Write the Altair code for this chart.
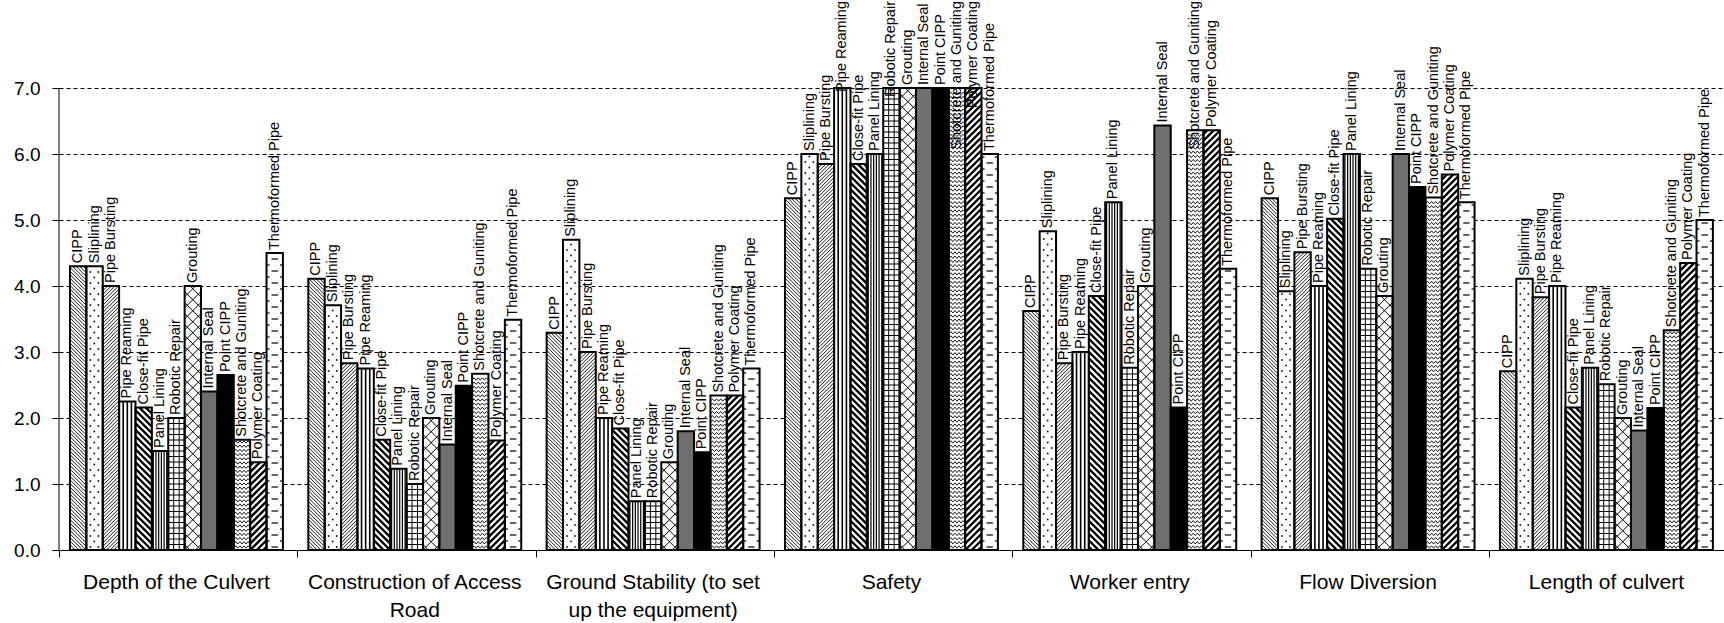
import altair as alt
import numpy as np
import pandas as pd

# ---------------------------------------------------------------------------
# Scores (0-7) of each trenchless method against each site criterion
# ---------------------------------------------------------------------------
criteria = [
    "Depth of the Culvert",
    "Construction of Access\nRoad",
    "Ground Stability (to set\nup the equipment)",
    "Safety",
    "Worker entry",
    "Flow Diversion",
    "Length of culvert",
]
methods = [
    "CIPP", "Sliplining", "Pipe Bursting", "Pipe Reaming", "Close-fit Pipe",
    "Panel Lining", "Robotic Repair", "Grouting", "Internal Seal", "Point CIPP",
    "Shotcrete and Guniting", "Polymer Coating", "Thermoformed Pipe",
]

depth_of_culvert = [4.30, 4.30, 4.00, 2.25, 2.16, 1.50, 2.00, 4.00, 2.40, 2.65, 1.67, 1.33, 4.50]
access_road = [4.11, 3.71, 2.83, 2.75, 1.67, 1.23, 1.00, 2.00, 1.60, 2.49, 2.67, 1.66, 3.49]
ground_stability = [3.29, 4.70, 3.00, 2.00, 1.84, 0.74, 0.74, 1.33, 1.80, 1.48, 2.34, 2.34, 2.75]
safety = [5.33, 6.00, 5.85, 7.00, 5.85, 6.00, 7.00, 7.00, 7.00, 7.00, 7.00, 7.00, 6.00]
worker_entry = [3.62, 4.83, 2.83, 3.00, 3.85, 5.27, 2.76, 4.00, 6.43, 2.16, 6.36, 6.36, 4.26]
flow_diversion = [5.33, 3.92, 4.51, 4.00, 5.02, 6.00, 4.26, 3.85, 6.00, 5.50, 5.34, 5.69, 5.27]
culvert_length = [2.71, 4.11, 3.83, 4.00, 2.16, 2.76, 2.51, 2.00, 1.81, 2.15, 3.33, 4.35, 5.00]

series = [depth_of_culvert, access_road, ground_stability, safety,
          worker_entry, flow_diversion, culvert_length]

# ---------------------------------------------------------------------------
# Layout: the x scale counts bar slots, the y scale counts score units
# ---------------------------------------------------------------------------
PLOT_W, PLOT_H = 1665, 550
BAR_PX = 16.38          # pixel width of one bar slot
Y_PX = 66.0             # pixels per score unit
GROUP_SLOTS = 14.55     # slots per criterion, gap included
LEAD = 0.67             # slots between a category tick and its first bar
X_MAX = PLOT_W / BAR_PX
Y_MAX = PLOT_H / Y_PX
FONT = "Liberation Sans"
LABEL_SIZE = 14.5
LABEL_GAP = 3

base_fill = {m: "white" for m in methods}
base_fill["Internal Seal"] = "#6f6f6f"
base_fill["Point CIPP"] = "black"

# Advance widths (per 1000 em) of the Arial-metric face, used to keep the
# rotated bar labels inside the top edge of the chart.
ADVANCE = {
    " ": 278, "-": 333, "B": 667, "C": 722, "G": 778, "I": 278, "L": 556,
    "P": 667, "R": 722, "S": 667, "T": 611, "a": 556, "b": 556, "c": 500,
    "d": 556, "e": 556, "f": 278, "g": 556, "h": 556, "i": 222, "l": 222,
    "m": 833, "n": 556, "o": 556, "p": 556, "r": 333, "s": 500, "t": 278,
    "u": 556, "y": 500,
}


def text_px(s, size):
    return sum(ADVANCE.get(ch, 556) for ch in s) * size / 1000.0


rows = []
for g, (crit, vals) in enumerate(zip(criteria, series)):
    for b, (m, v) in enumerate(zip(methods, vals)):
        left = g * GROUP_SLOTS + LEAD + b
        end_px = v * Y_PX + LABEL_GAP + text_px(m, LABEL_SIZE)
        rows.append(dict(criterion=crit, method=m, value=v, base=0.0,
                         x0=left, x1=left + 1, xc=left + 0.5,
                         clamped=bool(end_px > PLOT_H - 1),
                         ytop=(PLOT_H - 1) / Y_PX))
bars = pd.DataFrame(rows)


# ---------------------------------------------------------------------------
# Monochrome fill patterns, built in bar-local pixels then mapped to data units
# ---------------------------------------------------------------------------
def diagonal(W, H, step, rising, sw):
    out = []
    if rising:
        c = -W + step / 2
        while c < H:
            xa, xb = max(0.0, -c), min(W, H - c)
            if xb - xa > 0.3:
                out.append((xa, xa + c, xb, xb + c, sw))
            c += step
    else:
        c = step / 2
        while c < W + H:
            xa, xb = max(0.0, c - H), min(W, c)
            if xb - xa > 0.3:
                out.append((xa, c - xa, xb, c - xb, sw))
            c += step
    return out


def verticals(H, xs, sw):
    return [(x, 0.0, x, H, sw) for x in xs]


def horizontals(W, H, step, sw):
    return [(0.0, y, W, y, sw) for y in np.arange(step, H - 0.8, step)]


def dashes(W, H):
    out = []
    for k, y in enumerate(np.arange(3.0, H - 1.0, 6.0)):
        if k % 2 == 0:
            out.append((5.0, y, 11.4, y, 1.2))
        else:
            out.append((0.0, y, 3.0, y, 1.2))
            out.append((13.4, y, W, y, 1.2))
    return out


segments, dots, zigzags = [], [], []
zig_id = 0
W = BAR_PX
for r in bars.itertuples():
    H = r.value * Y_PX
    m = r.method
    segs = []
    if m == "CIPP":
        segs = diagonal(W, H, 3.6, False, 0.9)
    elif m == "Pipe Bursting":
        segs = diagonal(W, H, 3.6, True, 0.9)
    elif m == "Close-fit Pipe":
        segs = diagonal(W, H, 6.5, False, 2.4)
    elif m == "Polymer Coating":
        segs = diagonal(W, H, 6.5, True, 2.4)
    elif m == "Grouting":
        segs = diagonal(W, H, 11.0, True, 1.0) + diagonal(W, H, 11.0, False, 1.0)
    elif m == "Pipe Reaming":
        segs = verticals(H, [4.1, 8.2, 12.3], 1.6)
    elif m == "Panel Lining":
        segs = verticals(H, np.arange(1.4, W - 0.5, 2.7), 1.2)
    elif m == "Robotic Repair":
        segs = verticals(H, [W / 3, 2 * W / 3], 1.0) + horizontals(W, H, 5.5, 1.0)
    elif m == "Thermoformed Pipe":
        segs = dashes(W, H)
    elif m == "Sliplining":
        for k, y in enumerate(np.arange(3.0, H - 1.5, 5.5)):
            for x in ([4.0, 12.0] if k % 2 == 0 else [8.0]):
                dots.append(dict(x=r.x0 + x / BAR_PX, y=y / Y_PX))
    elif m == "Shotcrete and Guniting":
        for y0 in np.arange(3.0, H - 2.0, 4.2):
            for i, x in enumerate(np.linspace(0, W, 9)):
                yy = y0 + (1.2 if i % 2 else -1.2)
                zigzags.append(dict(x=r.x0 + x / BAR_PX, y=yy / Y_PX, rid=zig_id, k=i))
            zig_id += 1
    for (xa, ya, xb, yb, sw) in segs:
        segments.append(dict(x=r.x0 + xa / BAR_PX, y=ya / Y_PX,
                             x2=r.x0 + xb / BAR_PX, y2=yb / Y_PX, sw=sw))

segments = pd.DataFrame(segments)
dots = pd.DataFrame(dots)
zigzags = pd.DataFrame(zigzags)

# ---------------------------------------------------------------------------
# Shared scales and axes (identical in every layer so they merge cleanly)
# ---------------------------------------------------------------------------
XS = alt.Scale(domain=[0, X_MAX], nice=False, zero=False)
YS = alt.Scale(domain=[0, Y_MAX], nice=False, zero=True)

boundaries = [g * GROUP_SLOTS for g in range(len(criteria))]

X_AXIS = alt.Axis(
    values=boundaries, labels=False, ticks=True, tickSize=7,
    tickColor="black", tickWidth=1, domain=True, domainColor="black",
    domainWidth=1, grid=False, title=None)
Y_AXIS = alt.Axis(
    values=list(range(8)), format=".1f", domain=False,
    ticks=True, tickSize=7, tickColor="black", tickWidth=1, grid=True,
    gridDash=[4, 3], gridColor="black", gridWidth=1, gridOpacity=1,
    labelFontSize=19, labelColor="black", labelFont=FONT,
    labelPadding=12, title=None)


def X(field):
    return alt.X(field, type="quantitative", scale=XS, axis=X_AXIS)


def Y(field):
    return alt.Y(field, type="quantitative", scale=YS, axis=Y_AXIS)


fills = alt.Chart(bars).mark_rect(strokeWidth=0).encode(
    x=X("x0"), x2="x1:Q",
    y=Y("value"), y2="base:Q",
    color=alt.Color("method:N", scale=alt.Scale(domain=methods,
                    range=[base_fill[m] for m in methods]), legend=None),
)

hatch = alt.Chart(segments).mark_rule(color="black", strokeCap="butt").encode(
    x=X("x"), x2="x2:Q",
    y=Y("y"), y2="y2:Q",
    strokeWidth=alt.StrokeWidth("sw:Q", scale=None, legend=None),
)

waves = alt.Chart(zigzags).mark_line(color="black", strokeWidth=0.9).encode(
    x=X("x"), y=Y("y"),
    detail="rid:N",
    order="k:Q",
)

speckle = alt.Chart(dots).mark_square(size=2.6, color="black", opacity=1).encode(
    x=X("x"), y=Y("y"),
)

outlines = alt.Chart(bars).mark_rect(fillOpacity=0, stroke="black", strokeWidth=2).encode(
    x=X("x0"), x2="x1:Q",
    y=Y("value"), y2="base:Q",
)

y_axis_line = alt.Chart(pd.DataFrame({"x": [0.0], "lo": [0.0], "hi": [7.0]})).mark_rule(
    color="black", strokeWidth=1).encode(
    x=X("x"), y=Y("lo"), y2="hi:Q",
)

# Labels that fit start just above their bar; longer ones are pushed down so
# that they end at the top edge.
free_labels = alt.Chart(bars).transform_filter("!datum.clamped").mark_text(
    angle=270, align="left", baseline="middle", dx=LABEL_GAP,
    fontSize=LABEL_SIZE, font=FONT, color="black").encode(
    x=X("xc"), y=Y("value"),
    text="method:N",
)

clamped_labels = alt.Chart(bars).transform_filter("datum.clamped").mark_text(
    angle=270, align="right", baseline="middle",
    fontSize=LABEL_SIZE, font=FONT, color="black").encode(
    x=X("xc"), y=Y("ytop"),
    text="method:N",
)

cat_df = pd.DataFrame({
    "label": criteria,
    "xc": [g * GROUP_SLOTS + LEAD + len(methods) / 2 for g in range(len(criteria))],
})
cat_labels = alt.Chart(cat_df).mark_text(
    align="center", baseline="top", fontSize=21, font=FONT, color="black",
    lineBreak="\n", lineHeight=28).encode(
    x=X("xc"),
    y=alt.value(572),
    text="label:N",
)

chart = (
    alt.layer(
        fills, hatch, waves, speckle, outlines, y_axis_line,
        free_labels, clamped_labels, cat_labels
    )
    .properties(
        width=PLOT_W,
        height=PLOT_H,
        autosize=alt.AutoSizeParams(type="none"),
        padding={"left": 59, "top": 0, "right": 0, "bottom": 73},
        background="white",
    )
    .configure(font=FONT)
    .configure_view(stroke=None)
    .configure_axisY(domain=False)
)

chart.save("out.html", embed_options={"renderer": "svg", "actions": False})
